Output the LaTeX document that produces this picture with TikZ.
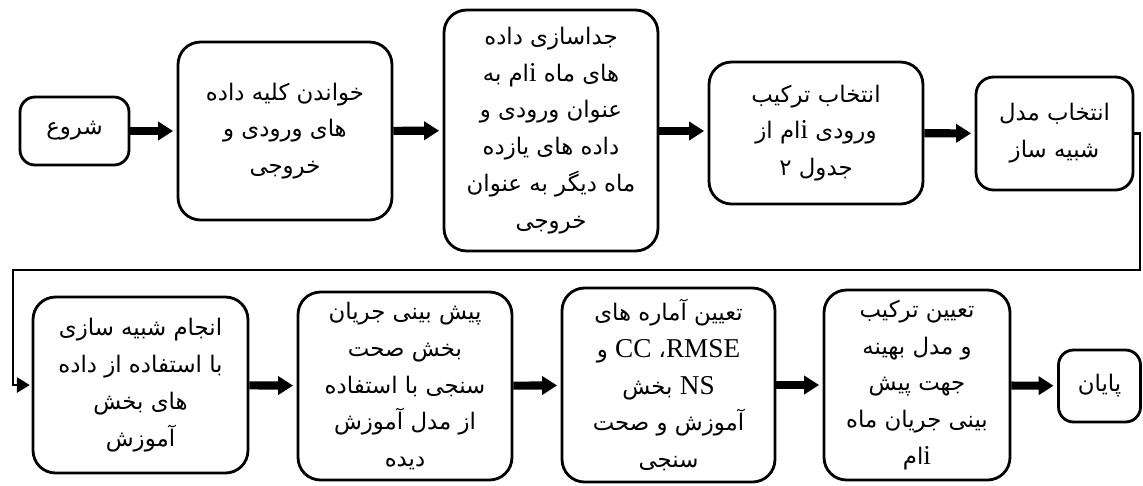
\documentclass[tikz,border=0pt]{standalone}
\usepackage{fontspec}
\usepackage{tikz}
\usetikzlibrary{arrows.meta}
\newfontfamily\arabicfont[Script=Arabic]{DejaVu Sans}
\newfontfamily\latinfont{Liberation Serif}
\TeXXeTstate=1
\newcommand{\fa}[1]{{\arabicfont\beginR #1\endR}}
\newcommand{\en}[1]{{\latinfont\fontsize{15.5}{21}\selectfont\beginL #1\endL}}

\begin{document}
\begin{tikzpicture}[x=0.02cm,y=-0.02cm,
  stepbox/.style={draw,line width=1.6pt,rounded corners=0.45cm,align=center,
    inner sep=0pt,font=\fontsize{13}{21}\selectfont},
  bigarrow/.style={line width=4.6pt,-{Triangle[length=0.3cm,width=0.36cm]},shorten >=2pt},
  link/.style={line width=1.6pt,-{Triangle[length=0.26cm,width=0.3cm]},shorten >=1pt}]

\useasboundingbox (0,0) rectangle (1143,485);

% first row
\node[stepbox,rounded corners=0.3cm,minimum width=2.18cm,minimum height=1.36cm] (start) at (74.5,131) {\fa{شروع}};
\node[stepbox,minimum width=4.28cm,minimum height=3.56cm] (read) at (285,131)
  {\fa{خواندن کلیه داده}\\ \fa{های ورودی و}\\ \fa{خروجی}};
\node[stepbox,minimum width=4.28cm,minimum height=4.82cm] (split) at (551,130.5)
  {\fa{جداسازی داده}\\ \fa{های ماه \en{i}ام به}\\ \fa{عنوان ورودی و}\\ \fa{داده های یازده}\\ \fa{ماه دیگر به عنوان}\\ \fa{خروجی}};
\node[stepbox,minimum width=4.28cm,minimum height=2.84cm] (combo) at (816,133)
  {\fa{انتخاب ترکیب}\\ \fa{ورودی \en{i}ام از}\\ \fa{جدول ۲}};
\node[stepbox,rounded corners=0.35cm,minimum width=3.14cm,minimum height=2.26cm] (model) at (1054.5,133.5)
  {\fa{انتخاب مدل}\\ \fa{شبیه ساز}};

% second row
\node[stepbox,minimum width=4.3cm,minimum height=3.52cm] (sim) at (140.5,385)
  {\fa{انجام شبیه سازی}\\ \fa{با استفاده از داده}\\ \fa{های بخش}\\ \fa{آموزش}};
\node[stepbox,minimum width=4.28cm,minimum height=3.76cm] (pred) at (405,386)
  {\fa{پیش بینی جریان}\\ \fa{بخش صحت}\\ \fa{سنجی با استفاده}\\ \fa{از مدل آموزش}\\ \fa{دیده}};
\node[stepbox,minimum width=4.26cm,minimum height=3.88cm] (stats) at (668.5,385)
  {\fa{تعیین آماره های}\\ \fa{\en{RMSE}، \en{CC} و}\\ \fa{\en{NS} بخش}\\ \fa{آموزش و صحت}\\ \fa{سنجی}};
\node[stepbox,minimum width=3.72cm,minimum height=3.8cm] (best) at (917,385)
  {\fa{تعیین ترکیب}\\ \fa{و مدل بهینه}\\ \fa{جهت پیش}\\ \fa{بینی جریان ماه}\\ \fa{\en{i}ام}};
\node[stepbox,rounded corners=0.3cm,minimum width=1.64cm,minimum height=1.44cm] (stop) at (1099.5,386) {\fa{پایان}};

\draw[bigarrow] (start) -- (read);
\draw[bigarrow] (read) -- (split);
\draw[bigarrow] (split.east |- read.east) -- (combo.west |- read.east);
\draw[bigarrow] (combo) -- (model);

\coordinate (rt) at (1140,270);
\coordinate (lt) at (13,270);
\draw[link] (model.east) -| (rt) -- (lt) |- (sim.west);

\draw[bigarrow] (sim) -- (pred);
\draw[bigarrow] (pred) -- (stats);
\draw[bigarrow] (stats) -- (best);
\draw[bigarrow] (best) -- (stop);

\end{tikzpicture}
\end{document}
